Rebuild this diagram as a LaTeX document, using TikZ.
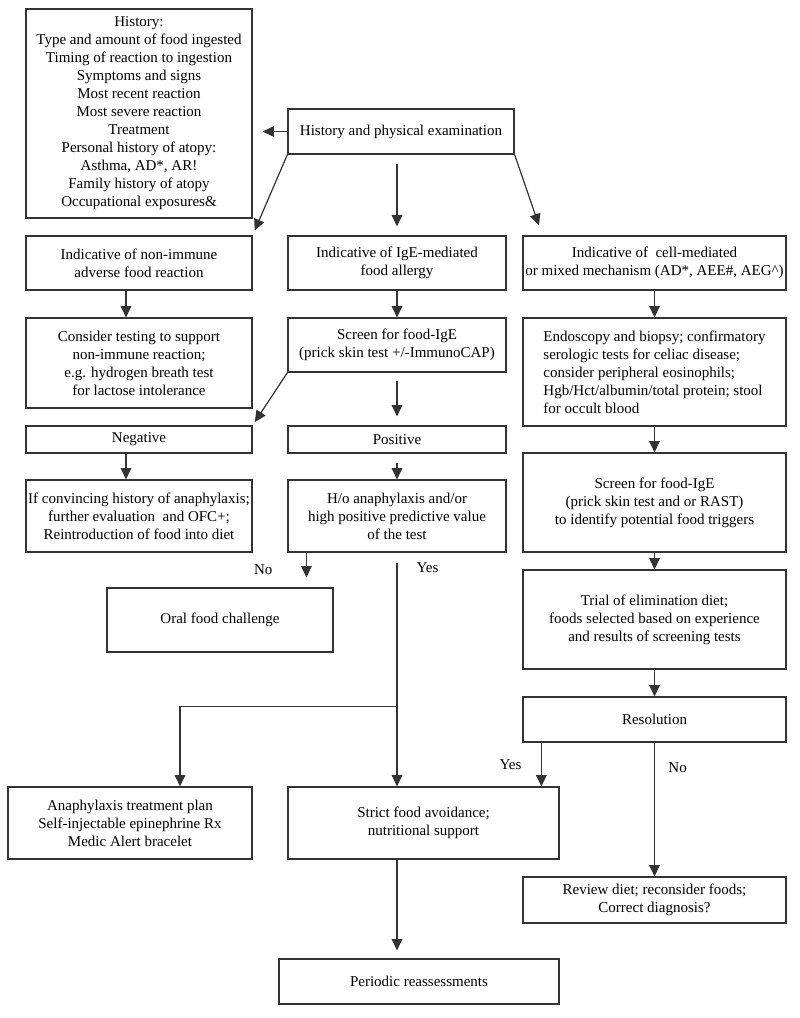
\documentclass[tikz,border=0pt]{standalone}
\usepackage{fontspec}
\setmainfont{Liberation Serif}
\usetikzlibrary{arrows.meta}
\newcommand{\pxUnit}{0.75pt}
\tikzstyle{chart} = [x=\pxUnit, y=-\pxUnit]
\tikzstyle{boxStyle} = [draw=black!80, line width=0.9pt, rectangle, inner xsep=0pt, inner ysep=0pt, align=center, font=\fontsize{11.25}{13.5}\selectfont]
\tikzstyle{plainLine} = [draw=black!80, line width=0.9pt]
\tikzstyle{arrowLine} = [plainLine, -{Triangle[length=8.5pt, width=8pt]}]
\tikzstyle{labelText} = [font=\fontsize{11.25}{13.5}\selectfont, inner sep=0pt]
% box from its corners (x1,y1) to (x2,y2) in pixels
\newcommand{\flowBox}[6]{\node [boxStyle, minimum width=(#4-#2)*\pxUnit, minimum height=(#5-#3)*\pxUnit] (#1) at ({(#2+#4)/2}, {(#3+#5)/2}) {#6};}
\newcommand{\flowBoxLeft}[6]{\node [boxStyle, align=left, minimum width=(#4-#2)*\pxUnit, minimum height=(#5-#3)*\pxUnit] (#1) at ({(#2+#4)/2}, {(#3+#5)/2}) {#6};}
\begin{document}
\begin{tikzpicture}[chart]
\useasboundingbox (0,0) rectangle (800,1018);
\flowBox{history}{26}{9}{252}{218}{History:\\Type and amount of food ingested\\Timing of reaction to ingestion\\Symptoms and signs\\Most recent reaction\\Most severe reaction\\Treatment\\Personal history of atopy:\\Asthma, AD*, AR!\\Family history of atopy\\Occupational exposures\&}
\flowBox{hpe}{288}{109}{514}{154}{History and physical examination}
\flowBox{nonimm}{26}{236}{252}{290}{Indicative of non-immune\\adverse food reaction}
\flowBox{ige}{288}{236}{506}{290}{Indicative of IgE-mediated\\food allergy}
\flowBox{cell}{523}{236}{786}{290}{Indicative of~ cell-mediated\\or mixed mechanism (AD*, AEE\#, AEG\textasciicircum)}
\flowBox{consider}{26}{318}{252}{408}{Consider testing to support\\non-immune reaction;\\e.g. hydrogen breath test\\for lactose intolerance}
\flowBox{screen}{288}{318}{506}{372}{Screen for food-IgE\\(prick skin test +/-ImmunoCAP)}
\flowBoxLeft{endo}{523}{318}{786}{426}{Endoscopy and biopsy; confirmatory\\serologic tests for celiac disease;\\consider peripheral eosinophils;\\Hgb/Hct/albumin/total protein; stool\\for occult blood}
\flowBox{negative}{26}{426}{252}{453}{Negative}
\flowBox{positive}{288}{426}{506}{453}{Positive}
\flowBox{rast}{523}{453}{786}{552}{Screen for food-IgE\\(prick skin test and or RAST)\\to identify potential food triggers}
\flowBox{convince}{26}{480}{252}{552}{If convincing history of anaphylaxis;\\further evaluation~ and OFC+;\\Reintroduction of food into diet}
\flowBox{hoana}{288}{480}{506}{552}{H/o anaphylaxis and/or\\high positive predictive value\\of the test}
\flowBox{oral}{107}{588}{333}{652}{Oral food challenge}
\flowBox{trial}{523}{570}{786}{669}{Trial of elimination diet;\\foods selected based on experience\\and results of screening tests}
\flowBox{resol}{523}{697}{786}{742}{Resolution}
\flowBox{anaplan}{8}{787}{252}{859}{Anaphylaxis treatment plan\\Self-injectable epinephrine Rx\\Medic Alert bracelet}
\flowBox{strict}{288}{787}{559}{859}{Strict food avoidance;\\nutritional support}
\flowBox{review}{523}{877}{786}{923}{Review diet; reconsider foods;\\Correct diagnosis?}
\flowBox{periodic}{279}{959}{559}{1004}{Periodic reassessments}
% connectors from the history box
\draw [arrowLine, shorten >=7.5pt] (hpe.west) -- (history.east |- hpe.west);
\draw [arrowLine, shorten >=4pt] (hpe.south west) -- (nonimm.north east);
\draw [arrowLine, shorten <=6.75pt, shorten >=6.75pt] (ige.north |- hpe.south) -- (ige.north);
\draw [arrowLine, shorten >=8pt] (hpe.south east) -- ([xshift=15pt]cell.north west);
% left and middle columns
\draw [arrowLine] ([xshift=-9.75pt]nonimm.south) -- ([xshift=-9.75pt]consider.north);
\draw [arrowLine] (ige.south) -- (screen.north);
\draw [arrowLine, shorten >=3pt] (screen.south west) -- (negative.north east);
\draw [arrowLine, shorten <=6pt, shorten >=6.75pt] (screen.south) -- (positive.north);
\draw [arrowLine] ([xshift=-9.75pt]negative.south) -- ([xshift=-9.75pt]convince.north);
\draw [arrowLine, shorten <=6.75pt] (positive.south) -- (hoana.north);
\draw [arrowLine, shorten >=7.5pt] ([xshift=14.25pt]hoana.south west) -- ([xshift=14.25pt]hoana.south west |- oral.north) node [labelText, midway, left=25pt] {No};
\coordinate (yesStart) at ([yshift=-7.5pt]hoana.south);
\coordinate (branch) at ([yshift=-115.5pt]hoana.south);
\draw [arrowLine] (yesStart) -- (yesStart |- strict.north) node [labelText, pos=0, anchor=west, xshift=14.25pt, yshift=-3.75pt] {Yes};
\draw [arrowLine] (branch) -| ([xshift=37.5pt]anaplan.north);
\draw [arrowLine, shorten >=6pt] (yesStart |- strict.south) -- (yesStart |- periodic.north);
% right column
\draw [arrowLine] (cell.south) -- (endo.north);
\draw [arrowLine] (endo.south) -- (rast.north);
\draw [arrowLine] (rast.south) -- (trial.north);
\draw [arrowLine] (trial.south) -- (resol.north);
\draw [arrowLine] ([xshift=14.25pt]resol.south west) -- ([xshift=14.25pt]resol.south west |- strict.north) node [labelText, midway, left=14.5pt] {Yes};
\draw [arrowLine] (resol.south) -- (review.north) node [labelText, pos=0.185, right=10pt] {No};
\end{tikzpicture}
\end{document}
